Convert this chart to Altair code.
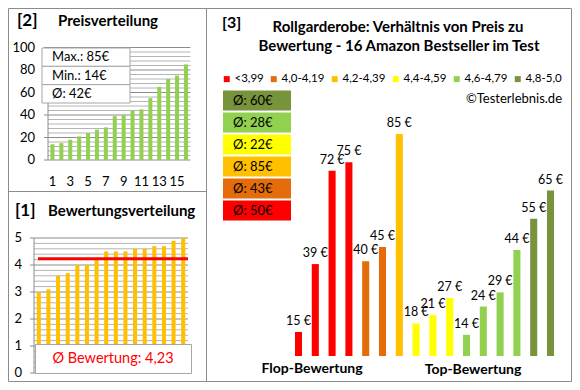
import altair as alt
import pandas as pd

FONT = "Lato"
W, H = 564, 374
GRID_MAJOR = "#8c8c8c"
GRID_MINOR = "#b4b4b4"
FRAME = "#8c8c8c"

# ---------------- data ----------------
# [2] Preisverteilung
price_rank = list(range(1, 17))
prices_sorted = [14, 15, 18, 21, 24, 27, 29, 39, 40, 44, 45, 55, 65, 72, 75, 85]
price_ticks = [0, 20, 40, 60, 80, 100]
price_tick_labels = ["0", "20", "40", "60", "80", "100"]
price_minor = [4, 8, 12, 16, 24, 28, 32, 36, 44, 48, 52, 56, 64, 68, 72, 76, 84, 88, 92, 96]
price_xlabels = [1, 3, 5, 7, 9, 11, 13, 15]
price_info_rows = ["Max.: 85€", "Min.: 14€", "Ø: 42€"]

# [1] Bewertungsverteilung
ratings_sorted = [3.0, 3.1, 3.6, 3.7, 4.0, 4.0, 4.2, 4.5, 4.5, 4.5, 4.6, 4.6, 4.7, 4.7, 4.9, 5.0]
rating_ticks = [0, 1, 2, 3, 4, 5]
rating_tick_labels = ["0", "1", "2", "3", "4", "5"]
rating_minor = [0.2, 0.4, 0.6, 0.8, 1.2, 1.4, 1.6, 1.8, 2.2, 2.4, 2.6, 2.8,
                3.2, 3.4, 3.6, 3.8, 4.2, 4.4, 4.6, 4.8]
rating_avg = 4.23
rating_avg_label = "Ø Bewertung: 4,23"

# [3] Verhältnis von Preis zu Bewertung
products = list(range(1, 17))
product_prices = [15, 39, 72, 75, 40, 45, 85, 18, 21, 27, 14, 24, 29, 44, 55, 65]
groups = ["<3,99", "4,0-4,19", "4,2-4,39", "4,4-4,59", "4,6-4,79", "4,8-5,0"]
product_groups = (["<3,99"] * 4 + ["4,0-4,19"] * 2 + ["4,2-4,39"] + ["4,4-4,59"] * 3
                  + ["4,6-4,79"] * 4 + ["4,8-5,0"] * 2)
group_colors = ["#FF0000", "#E46C0A", "#FFC000", "#FFFF00", "#92D050", "#77933C"]
group_avg_labels = ["Ø: 50€", "Ø: 43€", "Ø: 85€", "Ø: 22€", "Ø: 28€", "Ø: 60€"]

# ---------------- helpers ----------------
def text(t, x, y, size=12, bold=False, align="left", color="#000000"):
    return alt.Chart(alt.Data(values=[{"t": t}])).mark_text(
        font=FONT, fontSize=size, fontWeight="bold" if bold else "normal",
        align=align, baseline="middle", color=color
    ).encode(text="t:N", x=alt.value(x), y=alt.value(y))


def box(x1, x2, y1, y2, stroke=FRAME, fill="#ffffff", fill_opacity=1.0):
    return alt.Chart(alt.Data(values=[{"b": 1}])).mark_rect(
        fill=fill, fillOpacity=fill_opacity, stroke=stroke, strokeWidth=1
    ).encode(x=alt.value(x1), x2=alt.value(x2), y=alt.value(y1), y2=alt.value(y2))


def hline(x1, x2, y, color=FRAME):
    return alt.Chart(alt.Data(values=[{"b": 1}])).mark_rule(color=color, strokeWidth=1).encode(
        x=alt.value(x1), x2=alt.value(x2), y=alt.value(y))


def vline(x, y1, y2, color=FRAME):
    return alt.Chart(alt.Data(values=[{"b": 1}])).mark_rule(color=color, strokeWidth=1).encode(
        x=alt.value(x), y=alt.value(y1), y2=alt.value(y2))


layers = []

# frame
layers.append(box(0.5, W - 0.5, 0.5, H - 0.5, fill_opacity=0))
layers.append(vline(198.5, 0, H))
layers.append(hline(0, 198.5, 183.5))

# ---------------- panel [2] ----------------
p_y = alt.Scale(domain=[0, 100], range=[152, 39.5])
p_x = alt.Scale(domain=price_rank, range=[40, 182.4], paddingInner=0.55, paddingOuter=0.275)
px1, px2 = 40, 182.4

layers.append(alt.Chart(pd.DataFrame({"v": price_minor})).mark_rule(color=GRID_MINOR).encode(
    y=alt.Y("v:Q", scale=p_y, axis=None), x=alt.value(px1), x2=alt.value(px2)))
layers.append(alt.Chart(pd.DataFrame({"v": price_ticks})).mark_rule(color=GRID_MAJOR).encode(
    y=alt.Y("v:Q", scale=p_y, axis=None), x=alt.value(px1 - 4), x2=alt.value(px2)))
layers.append(alt.Chart(pd.DataFrame({"rank": price_rank, "price": prices_sorted})).mark_bar(
    color="#92D050").encode(
    x=alt.X("rank:O", scale=p_x, axis=None),
    y=alt.Y("price:Q", scale=p_y, axis=None), y2=alt.datum(0)))
layers.append(vline(px1, 39.5, 152, GRID_MAJOR))
layers.append(alt.Chart(pd.DataFrame({"v": price_ticks, "lab": price_tick_labels})).mark_text(
    font=FONT, fontSize=13, align="right", baseline="middle", color="#000000").encode(
    y=alt.Y("v:Q", scale=p_y, axis=None), text="lab:N", x=alt.value(27)))
layers.append(alt.Chart(pd.DataFrame({"rank": price_xlabels})).mark_text(
    font=FONT, fontSize=13, align="center", baseline="middle", color="#000000").encode(
    x=alt.X("rank:O", scale=p_x, axis=None), text="rank:N", y=alt.value(174)))
info_y = alt.Scale(domain=price_info_rows, range=[40, 95], paddingInner=0, paddingOuter=0)
layers.append(alt.Chart(pd.DataFrame({"row": price_info_rows})).mark_rect(
    fill="#ffffff", stroke="#a6a6a6").encode(
    y=alt.Y("row:N", scale=info_y, axis=None), x=alt.value(34), x2=alt.value(122)))
layers.append(alt.Chart(pd.DataFrame({"row": price_info_rows})).mark_text(
    font=FONT, fontSize=13, align="left", baseline="middle", color="#000000").encode(
    y=alt.Y("row:N", scale=info_y, axis=None), text="row:N", x=alt.value(44)))
layers.append(text("[2]", 9, 12.5, size=17, bold=True))
layers.append(text("Preisverteilung", 50, 12.5, size=15, bold=True))

# ---------------- panel [1] ----------------
r_y = alt.Scale(domain=[0, 5], range=[365, 230])
r_x = alt.Scale(domain=price_rank, range=[26, 180], paddingInner=0.58, paddingOuter=0.29)
rx1, rx2 = 26, 180

layers.append(alt.Chart(pd.DataFrame({"v": rating_minor})).mark_rule(color=GRID_MINOR).encode(
    y=alt.Y("v:Q", scale=r_y, axis=None), x=alt.value(rx1), x2=alt.value(rx2)))
layers.append(alt.Chart(pd.DataFrame({"v": rating_ticks})).mark_rule(color=GRID_MAJOR).encode(
    y=alt.Y("v:Q", scale=r_y, axis=None), x=alt.value(rx1 - 4), x2=alt.value(rx2)))
layers.append(alt.Chart(pd.DataFrame({"rank": price_rank, "rating": ratings_sorted})).mark_bar(
    color="#FFC000").encode(
    x=alt.X("rank:O", scale=r_x, axis=None),
    y=alt.Y("rating:Q", scale=r_y, axis=None), y2=alt.datum(0)))
layers.append(vline(rx1, 230, 365, GRID_MAJOR))
layers.append(alt.Chart(pd.DataFrame({"v": [rating_avg]})).mark_rule(
    color="#FF0000", strokeWidth=3).encode(
    y=alt.Y("v:Q", scale=r_y, axis=None), x=alt.value(30), x2=alt.value(180)))
layers.append(alt.Chart(pd.DataFrame({"v": rating_ticks, "lab": rating_tick_labels})).mark_text(
    font=FONT, fontSize=13, align="right", baseline="middle", color="#000000").encode(
    y=alt.Y("v:Q", scale=r_y, axis=None), text="lab:N", x=alt.value(14)))
layers.append(box(27.5, 183.5, 336.5, 365.5, stroke="#a6a6a6"))
layers.append(text(rating_avg_label, 105, 351, size=14.5, align="center", color="#FF0000"))
layers.append(text("[1]", 7, 202.5, size=17, bold=True))
layers.append(text("Bewertungsverteilung", 40, 202.5, size=15, bold=True))

# ---------------- panel [3] ----------------
b_y = alt.Scale(domain=[6.5, 85], range=[348, 126])
b_x = alt.Scale(domain=products, range=[282.1, 550.9], paddingInner=0.58, paddingOuter=0.29)
g_color = alt.Scale(domain=groups, range=group_colors)

df_prod = pd.DataFrame({
    "prod": products, "price": product_prices, "grp": product_groups,
    "lab": [f"{p} €" for p in product_prices],
})
layers.append(alt.Chart(df_prod).mark_bar().encode(
    x=alt.X("prod:O", scale=b_x, axis=None),
    y=alt.Y("price:Q", scale=b_y, axis=None), y2=alt.datum(6.5),
    color=alt.Color("grp:N", scale=g_color, legend=alt.Legend(
        orient="none", legendX=213, legendY=65, direction="horizontal", title=None,
        symbolType="square", symbolSize=36, symbolStrokeWidth=0, labelFont=FONT,
        labelFontSize=11.5, labelColor="#000000", columnPadding=4, labelOffset=2,
        padding=0))))
layers.append(alt.Chart(df_prod).mark_text(
    font=FONT, fontSize=12.5, align="center", baseline="middle", dy=-11, color="#000000").encode(
    x=alt.X("prod:O", scale=b_x, axis=None),
    y=alt.Y("price:Q", scale=b_y, axis=None), text="lab:N"))

key_order = groups[::-1]
key_y = alt.Scale(domain=key_order, range=[81.5, 213.5], paddingInner=0.1, paddingOuter=0.05)
df_key = pd.DataFrame({"grp": groups, "lab": group_avg_labels})
layers.append(alt.Chart(df_key).mark_rect().encode(
    y=alt.Y("grp:N", scale=key_y, axis=None), x=alt.value(215), x2=alt.value(283),
    color=alt.Color("grp:N", scale=g_color, legend=None)))
layers.append(alt.Chart(df_key).mark_text(
    font=FONT, fontSize=13, align="left", baseline="middle", color="#000000").encode(
    y=alt.Y("grp:N", scale=key_y, axis=None), x=alt.value(225), text="lab:N"))

layers.append(text("[3]", 214, 15, size=16, bold=True))
layers.append(text("Rollgarderobe: Verhältnis von Preis zu", 390, 19, size=15, bold=True, align="center"))
layers.append(text("Bewertung - 16 Amazon Bestseller im Test", 391, 38, size=15, bold=True, align="center"))
layers.append(text("©Testerlebnis.de", 554, 91, size=13, align="right"))
layers.append(text("Flop-Bewertung", 304, 361, size=14, bold=True, align="center"))
layers.append(text("Top-Bewertung", 465, 362, size=14, bold=True, align="center"))

chart = alt.layer(*layers).resolve_scale(
    x="independent", y="independent", color="independent"
).properties(
    width=W, height=H, autosize="none", padding=0
).configure_view(stroke=None)

chart.save("out.html", embed_options={"renderer": "svg", "actions": False})
